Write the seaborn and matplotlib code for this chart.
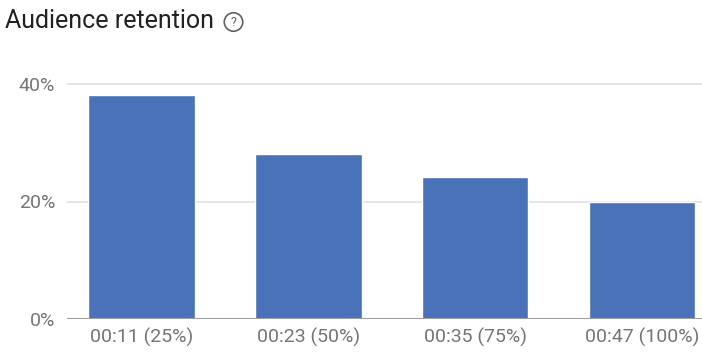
import matplotlib
matplotlib.use("Agg")
import matplotlib.pyplot as plt
import seaborn as sns
import pandas as pd

categories = ["00:11 (25%)", "00:23 (50%)", "00:35 (75%)", "00:47 (100%)"]
retention = [38.1, 28.1, 24.2, 20.0]
yticks = [0, 20, 40]
ytick_labels = ["0%", "20%", "40%"]

df = pd.DataFrame({"point": categories, "retention": retention})

sns.set_theme(style="white")
plt.rcParams["font.family"] = ["Roboto", "DejaVu Sans"]

W, H = 702, 352
fig = plt.figure(figsize=(W / 100, H / 100), dpi=100)
ax = fig.add_axes([67 / W, 1 - 319 / H, 1 - 67 / W, (319 - 72.25) / H])

sns.barplot(data=df, x="point", y="retention", color="#4a72b8", saturation=1,
            width=0.64, ax=ax, zorder=3)

ax.set_ylim(0, 42)
ax.set_xlim(-0.446, 3.36)
ax.set_yticks(yticks)
ax.set_yticklabels(ytick_labels)
for y in yticks[1:]:
    ax.axhline(y, color="#e0e0e0", lw=1.2, zorder=1)
ax.axhline(0, color="#9e9e9e", lw=1.5, zorder=4)
for s in ax.spines.values():
    s.set_visible(False)
ax.set_xlabel("")
ax.set_ylabel("")
ax.tick_params(axis="both", length=0, colors="#757575", labelsize=14)
ax.tick_params(axis="y", pad=8.5)
ax.tick_params(axis="x", pad=6)

fig.text(5 / W, 1 - 21 / H, "Audience retention", fontsize=18, color="#212121",
         va="center", ha="left")
fig.text(233.5 / W, 1 - 22 / H, "?", fontsize=9, color="#616161", va="center",
         ha="center",
         bbox=dict(boxstyle="circle,pad=0.22", fc="none", ec="#616161", lw=1.2))

fig.savefig("out.png", dpi=100)
